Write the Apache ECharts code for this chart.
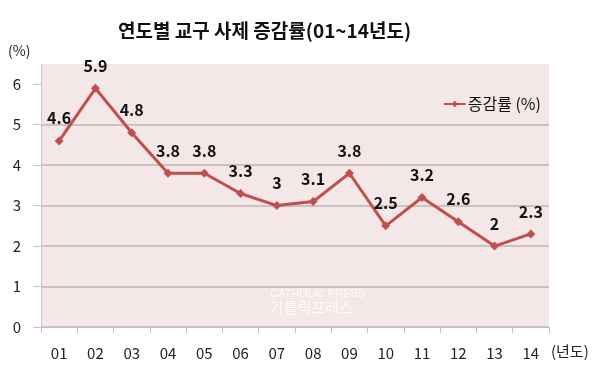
<!DOCTYPE html>
<html><head><meta charset="utf-8">
<script src="https://cdn.jsdelivr.net/npm/echarts@6/dist/echarts.min.js"></script>
<style>html,body{margin:0;padding:0;background:#fff;}#c{width:600px;height:383px;}</style>
</head><body><div id="c"></div>
<script>
const categories = ['01','02','03','04','05','06','07','08','09','10','11','12','13','14'];
const rates = [4.6, 5.9, 4.8, 3.8, 3.8, 3.3, 3, 3.1, 3.8, 2.5, 3.2, 2.6, 2, 2.3];
const yTicks = [0, 1, 2, 3, 4, 5, 6];
const seriesName = '증감률 (%)';
const FONT = '"Noto Sans CJK KR", "Noto Sans", sans-serif';

const chart = echarts.init(document.getElementById('c'), null, {renderer: 'canvas'});
chart.setOption({
  animation: false,
  backgroundColor: '#ffffff',
  title: {
    text: '연도별 교구 사제 증감률(01~14년도)',
    left: 113, top: 16,
    textStyle: {fontFamily: FONT, fontSize: 19, fontWeight: 'bold', color: '#111'}
  },
  legend: {
    data: [seriesName],
    right: 54, top: 91,
    itemWidth: 22, itemHeight: 8, itemGap: 2,
    textStyle: {fontFamily: FONT, fontSize: 16, color: '#111', padding: [0,0,0,-3]}
  },
  grid: {
    left: 41, right: 51, top: 64, bottom: 56,
    show: true, backgroundColor: '#f3e7e7', borderWidth: 0
  },
  graphic: [
    {type: 'text', left: 270, top: 288, style: {text: 'CATHOLIC PRESS', fontFamily: 'Liberation Sans, sans-serif', fontSize: 11, fill: 'rgba(255,255,255,0.85)'}},
    {type: 'text', left: 270, top: 300, style: {text: '가톨릭프레스', fontFamily: FONT, fontSize: 15, fill: 'rgba(255,255,255,0.85)'}},
    {type: 'text', left: 8, top: 44, style: {text: '(%)', fontFamily: FONT, fontSize: 14, fill: '#222'}},
    {type: 'text', left: 551, top: 344, style: {text: '(년도)', fontFamily: FONT, fontSize: 15, fill: '#222'}}
  ],
  xAxis: {
    type: 'category', data: categories, boundaryGap: true,
    axisLine: {lineStyle: {color: '#c4bcbc', width: 1}},
    axisTick: {show: true, length: 6, lineStyle: {color: '#c4bcbc'}},
    axisLabel: {fontFamily: FONT, fontSize: 15, color: '#222', margin: 19}
  },
  yAxis: {
    type: 'value', min: 0, max: 6.5, interval: 1,
    axisLine: {show: true, lineStyle: {color: '#d0c8c8'}},
    axisTick: {show: true, length: 8, customValues: yTicks, lineStyle: {color: '#c8c0c0'}},
    axisLabel: {fontFamily: FONT, fontSize: 15, color: '#222', margin: 20, customValues: yTicks},
    splitLine: {show: true, showMaxLine: false, lineStyle: {color: '#cbc1c1', width: 2}}
  },
  series: [{
    name: seriesName, type: 'line', data: rates,
    symbol: 'diamond', symbolSize: 9,
    lineStyle: {color: '#c0504d', width: 3},
    itemStyle: {color: '#c0504d'},
    label: {show: true, position: 'top', distance: 10, fontFamily: FONT, fontSize: 16, fontWeight: 'bold', color: '#111'}
  }]
});
</script></body></html>
